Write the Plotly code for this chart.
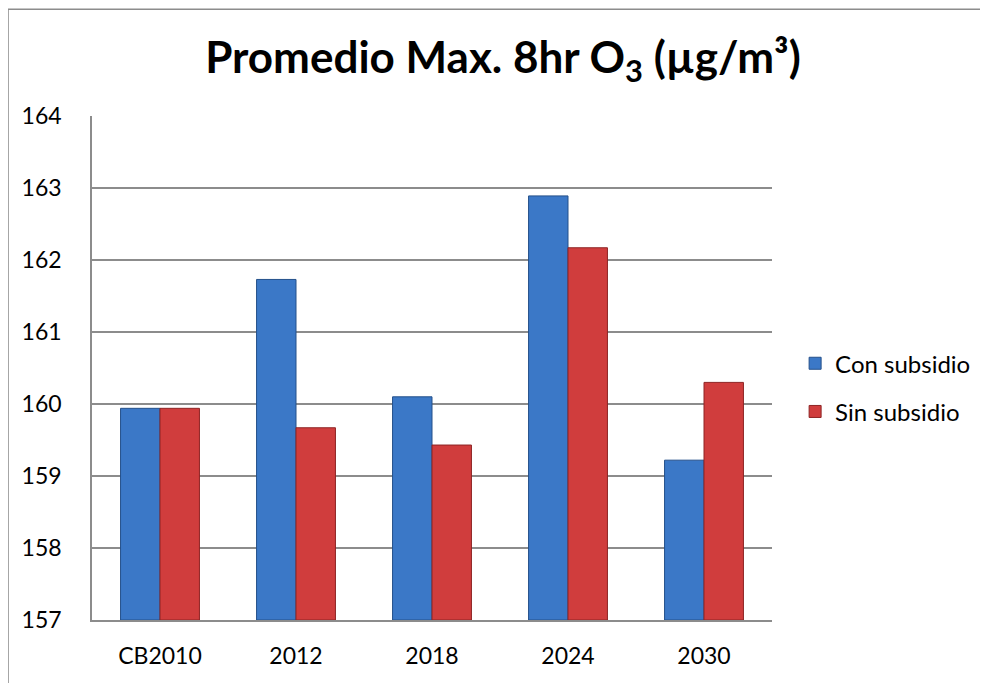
import plotly.graph_objects as go

categories = ["CB2010", "2012", "2018", "2024", "2030"]
con_subsidio = [159.94, 161.73, 160.10, 162.89, 159.22]
sin_subsidio = [159.94, 159.67, 159.43, 162.17, 160.30]
y_ticks = [157, 158, 159, 160, 161, 162, 163, 164]
AXIS_MIN = 157

FONT = "Lato, Open Sans, sans-serif"

fig = go.Figure()
fig.add_trace(go.Bar(
    x=categories, y=[v - AXIS_MIN for v in con_subsidio], base=AXIS_MIN,
    name="Con subsidio",
    marker=dict(color="#3B78C7", line=dict(color="#24508A", width=1)),
    legendgroup="a",
))
fig.add_trace(go.Bar(
    x=categories, y=[v - AXIS_MIN for v in sin_subsidio], base=AXIS_MIN,
    name="Sin subsidio",
    marker=dict(color="#D03D3D", line=dict(color="#8E2424", width=1)),
    legendgroup="b",
))

fig.update_layout(
    width=988, height=683,
    margin=dict(l=84, r=224, t=108, b=71),
    paper_bgcolor="white", plot_bgcolor="white",
    barmode="group", bargap=0.42, bargroupgap=0,
    title=dict(
        text="<b>Promedio Max. 8hr O<sub>3</sub> (µg/m³)</b>",
        x=0.501, xanchor="center", y=0.927, yanchor="middle",
        font=dict(family=FONT, size=44, color="black"),
    ),
    font=dict(family=FONT, size=23, color="black"),
    legend=dict(
        x=1.034, xanchor="left", y=0.461, yanchor="middle",
        font=dict(family=FONT, size=24, color="black"),
        tracegroupgap=14, itemwidth=30,
    ),
    showlegend=True,
)
fig.update_yaxes(
    range=[157, 164], tickvals=y_ticks, ticktext=[str(v) for v in y_ticks],
    showgrid=True, gridcolor="#8C8C8C", gridwidth=1.5,
    showline=True, linecolor="#8C8C8C", linewidth=1.5,
    ticks="", ticklabelstandoff=24, zeroline=False,
    tickfont=dict(family=FONT, size=23),
)
fig.update_xaxes(
    showline=True, linecolor="#8C8C8C", linewidth=1.5,
    ticks="", ticklabelstandoff=15,
    tickfont=dict(family=FONT, size=23),
)
# outer chart border
fig.add_shape(type="rect", xref="paper", yref="paper",
              x0=-0.1235, x1=1.4, y0=-0.2, y1=1.212,
              line=dict(color="#8C8C8C", width=1.5), fillcolor="rgba(0,0,0,0)",
              layer="below")

fig.write_html("out.html")
